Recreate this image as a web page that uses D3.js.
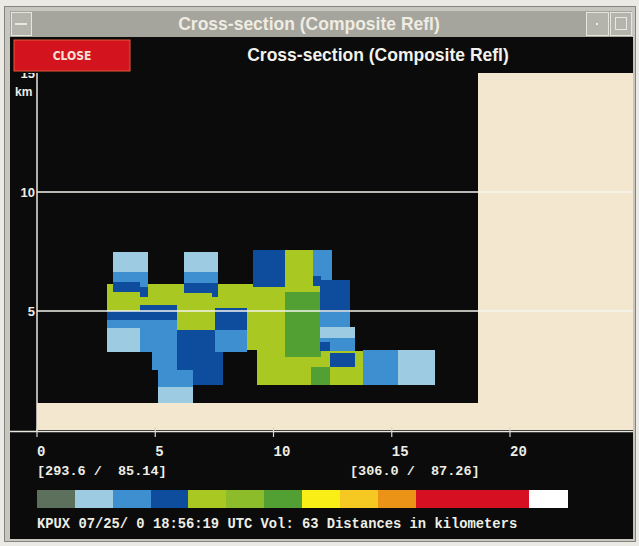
<!DOCTYPE html>
<html><head><meta charset="utf-8">
<script src="https://cdn.jsdelivr.net/npm/d3@7"></script>
<style>body{margin:0;background:#ecebe6;overflow:hidden}svg{display:block}</style>
</head><body>
<svg id="c" width="639" height="546"></svg>
<script>
// ---- data ----
const levelColors = ["#5d705c","#9ccbe2","#3d8fd0","#0e4c9e","#a9c822","#8cbc2a","#52a033","#f9ee16","#f6c922","#ea9317","#d70f23","#d70f23","#d70f23","#ffffff"];
const levels = d3.range(levelColors.length);
const xTicks = [0, 5, 10, 15, 20];
const yTicks = [5, 10, 15];
const yUnit = "km";
const coverageX = [0, 18.65];   // km range with radar data
const coverageY = [1.15, 15];   // km heights with radar data
const plotXMax = 25.2;
// cells: [x0, x1, y0, y1, level] in km
const cells = [
  [2.96, 9.13, 4.96, 6.12, 4],
  [8.9, 10.5, 3.35, 6.15, 4],
  [9.3, 10.5, 1.9, 3.35, 4],
  [10.49, 11.67, 1.9, 7.56, 4],
  [11.67, 11.97, 5.8, 6.1, 4],
  [11.67, 11.97, 2.6, 3.1, 4],
  [5.92, 7.53, 4.2, 4.96, 4],
  [11.97, 13.8, 1.9, 3.3, 4],
  [10.5, 12.0, 3.05, 5.8, 6],
  [11.6, 12.4, 1.9, 2.65, 6],
  [11.67, 12.47, 6.3, 7.56, 2],
  [11.67, 12.0, 6.05, 6.45, 3],
  [11.97, 13.23, 4.96, 6.3, 3],
  [11.97, 13.23, 4.33, 4.96, 2],
  [11.97, 13.45, 3.87, 4.33, 1],
  [11.97, 13.45, 3.3, 3.87, 2],
  [11.97, 12.39, 3.3, 3.7, 3],
  [12.39, 13.45, 2.65, 3.25, 3],
  [13.78, 15.26, 1.9, 3.36, 2],
  [15.26, 16.83, 1.9, 3.36, 1],
  [9.13, 10.49, 6.0, 7.56, 3],
  [3.21, 4.7, 6.64, 7.48, 1],
  [3.21, 4.7, 6.2, 6.64, 2],
  [4.36, 4.7, 6.0, 6.2, 2],
  [3.21, 4.36, 5.8, 6.22, 3],
  [4.36, 4.7, 5.6, 6.0, 3],
  [6.22, 7.65, 6.64, 7.48, 1],
  [6.22, 7.65, 6.18, 6.64, 2],
  [6.22, 7.4, 5.76, 6.18, 3],
  [7.4, 7.65, 5.6, 6.18, 3],
  [4.36, 5.92, 4.62, 5.25, 3],
  [2.96, 4.36, 4.62, 5.0, 3],
  [2.96, 4.36, 4.29, 4.62, 2],
  [2.96, 4.36, 3.28, 4.29, 1],
  [4.36, 5.92, 3.28, 4.62, 2],
  [4.86, 5.92, 2.52, 3.28, 2],
  [5.92, 7.86, 1.89, 4.2, 3],
  [5.12, 6.6, 1.81, 2.52, 2],
  [5.12, 6.6, 1.13, 1.81, 1],
  [7.53, 8.88, 4.2, 5.13, 3],
  [7.53, 8.88, 3.28, 4.2, 2]
];
const windowTitle = "Cross-section (Composite Refl)";
const closeLabel = "CLOSE";
const endpointLabels = ["[293.6 /  85.14]", "[306.0 /  87.26]"];
const footer = "KPUX 07/25/ 0 18:56:19 UTC Vol: 63 Distances in kilometers";

// ---- drawing ----
const svg = d3.select("#c");
const x = d3.scaleLinear().domain([0, 20]).range([37, 510]);
const y = d3.scaleLinear().domain([0, 15]).range([430, 73]);

// window frame
svg.append("rect").attr("x",0).attr("y",0).attr("width",639).attr("height",546).attr("fill","#eceae4");
svg.append("rect").attr("x",4.5).attr("y",6.5).attr("width",631).attr("height",535).attr("fill","#c8c7bf").attr("stroke","#85847e");
svg.append("rect").attr("x",10).attr("y",11).attr("width",622).attr("height",26).attr("fill","#a5a49d");
// title bar buttons
const btn = (bx,w)=>{svg.append("rect").attr("x",bx+0.5).attr("y",12.5).attr("width",w).attr("height",23).attr("fill","#b4b3ac").attr("stroke","#e6e5de");};
btn(11,20); btn(586,22); btn(610,21);
svg.append("line").attr("x1",15).attr("x2",27).attr("y1",24).attr("y2",24).attr("stroke","#e8e8e0").attr("stroke-width",2);
svg.append("rect").attr("x",596).attr("y",23).attr("width",2).attr("height",2).attr("fill","#eee");
svg.append("rect").attr("x",615.5).attr("y",17.5).attr("width",11).attr("height",12).attr("fill","none").attr("stroke","#e8e8e0");
svg.append("text").attr("x",309).attr("y",30).attr("text-anchor","middle")
  .attr("font-family","Liberation Sans, Arial, sans-serif").attr("font-weight","bold").attr("font-size",17.5)
  .attr("fill","#efece2").text(windowTitle);

// black panel
svg.append("rect").attr("x",10).attr("y",37).attr("width",623).attr("height",502).attr("fill","#0b0b0b");

// plot background (no data)
const g = svg.append("g").attr("shape-rendering","crispEdges");
g.append("rect").attr("x",x(0)).attr("y",y(15)).attr("width",x(plotXMax)-x(0)).attr("height",y(0)-y(15)).attr("fill","#f3e7cf");
g.append("rect").attr("x",x(coverageX[0])).attr("y",y(coverageY[1]))
  .attr("width",x(coverageX[1])-x(coverageX[0])).attr("height",y(coverageY[0])-y(coverageY[1])).attr("fill","#0b0b0b");
g.selectAll("rect.cell").data(cells).join("rect").attr("class","cell")
  .attr("x",d=>x(d[0])).attr("y",d=>y(d[3]))
  .attr("width",d=>x(d[1])-x(d[0])).attr("height",d=>y(d[2])-y(d[3]))
  .attr("fill",d=>levelColors[d[4]]);

// gridlines
svg.selectAll("line.grid").data(yTicks.filter(t=>t<15)).join("line").attr("class","grid")
  .attr("x1",x(0)).attr("x2",x(plotXMax)).attr("y1",d=>y(d)).attr("y2",d=>y(d))
  .attr("stroke","#f4f4ee").attr("stroke-width",1.6);
// axes lines
svg.append("line").attr("x1",x(0)).attr("x2",x(0)).attr("y1",y(15)).attr("y2",y(0)+2).attr("stroke","#e8e8e0").attr("stroke-width",1.5);
svg.append("line").attr("x1",10).attr("x2",x(plotXMax)).attr("y1",y(0)+1.5).attr("y2",y(0)+1.5).attr("stroke","#e8e8e0").attr("stroke-width",1.5);
svg.selectAll("line.xt").data(xTicks).join("line").attr("class","xt")
  .attr("x1",d=>x(d)).attr("x2",d=>x(d)).attr("y1",y(0)-3).attr("y2",y(0)+7)
  .attr("stroke","#d8d8d0").attr("stroke-width",1.2);
svg.selectAll("text.xl").data(xTicks).join("text").attr("class","xl")
  .attr("x",d=>x(d)).attr("y",456)
  .attr("font-family","Liberation Mono, monospace").attr("font-weight","bold").attr("font-size",14)
  .attr("fill","#eeeee6").text(d=>d);

// y labels
svg.selectAll("text.yl").data(yTicks).join("text").attr("class","yl")
  .attr("x",35).attr("y",d=>y(d)+5).attr("text-anchor","end")
  .attr("font-family","Liberation Sans, Arial, sans-serif").attr("font-weight","bold").attr("font-size",13)
  .attr("fill","#eeeee6").text(d=>d);
svg.append("text").attr("x",15).attr("y",96)
  .attr("font-family","Liberation Sans, Arial, sans-serif").attr("font-weight","bold").attr("font-size",12)
  .attr("fill","#eeeee6").text(yUnit);

// header row (covers the top of the "15" label)
svg.append("rect").attr("x",10).attr("y",37).attr("width",623).attr("height",36).attr("fill","#0b0b0b");
svg.append("rect").attr("x",14).attr("y",40).attr("width",116).attr("height",31).attr("fill","#d3141e").attr("stroke","#e45a3a");
svg.append("text").attr("x",72).attr("y",60).attr("text-anchor","middle")
  .attr("font-family","DejaVu Sans Condensed, DejaVu Sans, sans-serif").attr("font-weight","bold").attr("font-size",12)
  .attr("fill","#f6e0d8").text(closeLabel);
svg.append("text").attr("x",378).attr("y",61).attr("text-anchor","middle")
  .attr("font-family","Liberation Sans, Arial, sans-serif").attr("font-weight","bold").attr("font-size",17.5)
  .attr("fill","#f2f2ec").text(windowTitle);

// endpoints
svg.selectAll("text.ep").data(endpointLabels).join("text").attr("class","ep")
  .attr("x",(d,i)=>i===0?37:350).attr("y",475).style("white-space","pre")
  .attr("font-family","Liberation Mono, monospace").attr("font-weight","bold").attr("font-size",13.5)
  .attr("fill","#eeeee6").text(d=>d);

// color bar
const cb = d3.scaleBand().domain(levels).range([37, 567]).padding(0);
svg.append("g").attr("shape-rendering","crispEdges").selectAll("rect").data(levels).join("rect")
  .attr("x",d=>cb(d)).attr("y",490).attr("width",cb.bandwidth()+0.5).attr("height",18)
  .attr("fill",d=>levelColors[d]);

// footer
svg.append("text").attr("x",37).attr("y",528).style("white-space","pre")
  .attr("font-family","Liberation Mono, monospace").attr("font-weight","bold").attr("font-size",13.8)
  .attr("fill","#eeeee6").text(footer);
</script>
</body></html>
